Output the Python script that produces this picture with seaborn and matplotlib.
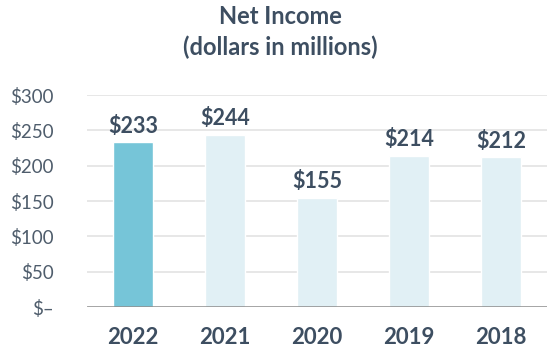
import matplotlib
matplotlib.use("Agg")
import matplotlib.pyplot as plt
import seaborn as sns
import pandas as pd

years = ["2022", "2021", "2020", "2019", "2018"]
values = [233, 244, 155, 214, 212]
yticks = [0, 50, 100, 150, 200, 250, 300]
ytick_labels = ["$–", "$50", "$100", "$150", "$200", "$250", "$300"]

sns.set_theme(style="white")
plt.rcParams['font.family'] = ['Lato', 'DejaVu Sans']
txt = "#3d4e61"

df = pd.DataFrame({"year": years, "value": values})
palette = ["#76c5d8"] + ["#e1f0f5"] * 4

fig = plt.figure(figsize=(5.6, 3.6), dpi=100)
ax = fig.add_axes([0.155, 0.147, 0.822, 0.589])
sns.barplot(data=df, x="year", y="value", hue="year", palette=palette,
            legend=False, width=0.43, ax=ax, saturation=1, zorder=3)
ax.set_ylim(0, 300)
ax.set_yticks(yticks)
ax.set_yticklabels(ytick_labels)
for y in yticks[1:]:
    ax.axhline(y, color="#e3e3e3", lw=1.2, zorder=1)
ax.axhline(0, color="#8a8a8a", lw=1.8, zorder=4)
for s in ax.spines.values():
    s.set_visible(False)
ax.set_xlabel("")
ax.set_ylabel("")
ax.tick_params(axis="y", length=0, pad=24, labelsize=13.5, labelcolor="#4f5d6c")
ax.tick_params(axis="x", length=0, pad=14, labelsize=16, labelcolor=txt)
for lbl in ax.get_xticklabels():
    lbl.set_fontweight("bold")
for p in ax.patches:
    h = p.get_height()
    if h and h > 0:
        ax.annotate(f"${h:.0f}", (p.get_x() + p.get_width() / 2, h),
                    xytext=(0, 4), textcoords="offset points",
                    ha="center", va="bottom", fontsize=15.5,
                    fontweight="bold", color=txt)
fig.text(0.5, 0.953, "Net Income", ha="center", va="center",
         fontsize=17, fontweight="bold", color=txt)
fig.text(0.5, 0.870, "(dollars in millions)", ha="center", va="center",
         fontsize=17, fontweight="bold", color=txt)
fig.savefig("out.png", dpi=100)
